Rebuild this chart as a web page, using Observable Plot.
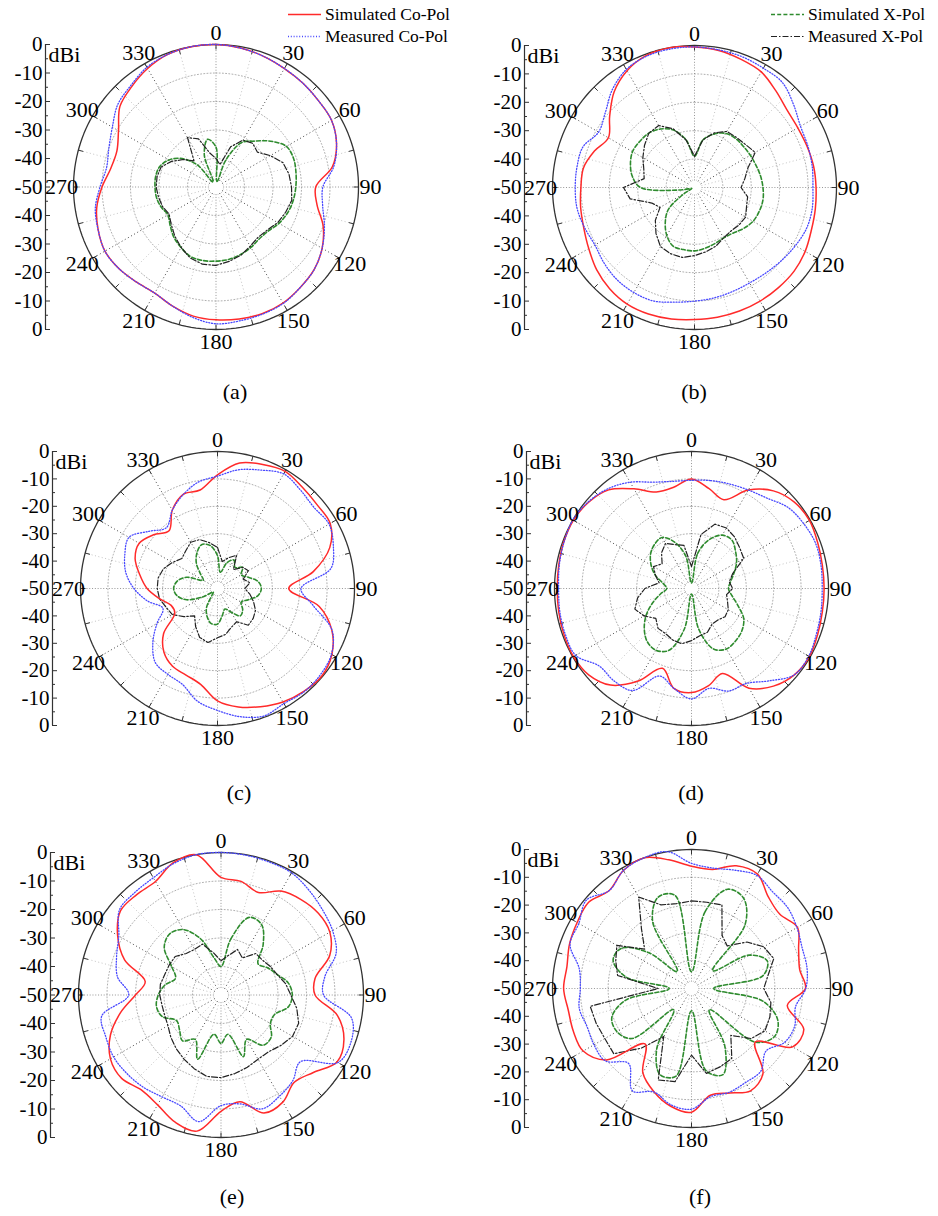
<!DOCTYPE html>
<html><head><meta charset="utf-8">
<script src="https://cdn.jsdelivr.net/npm/d3@7"></script>
<script src="https://cdn.jsdelivr.net/npm/@observablehq/plot@0.6"></script>
<style>
body{margin:0;background:#fff;}
#root{position:relative;width:938px;height:1216px;font-family:"Liberation Serif","Times New Roman",serif;color:#000;overflow:hidden;}
.panel{position:absolute;}
.panel svg text{font-family:"Liberation Serif","Times New Roman",serif;}
.cap{position:absolute;font-size:22px;transform:translate(-50%,-50%);white-space:nowrap;}
.leg{position:absolute;font-size:17.5px;display:flex;align-items:center;white-space:nowrap;transform:translateY(-50%);}
.leg svg{margin-right:4px;}
</style></head><body><div id="root"></div>
<script>
// ---------- data ----------
const angles = [0,10,20,30,40,50,60,70,80,90,100,110,120,130,140,150,160,170,180,190,200,210,220,230,240,250,260,270,280,290,300,310,320,330,340,350];
const angleLabels = [0,30,60,90,120,150,180,210,240,270,300,330];
const yTicks = [-50,-40,-30,-20,-10,0,10,20,30,40,50];
const yMinor = [-45,-35,-25,-15,-5,5,15,25,35,45];
const gridLevels = [-10,-20,-30,-40];
const captions = ["(a)","(b)","(c)","(d)","(e)","(f)"];
const seriesNames = ["Simulated Co-Pol","Measured Co-Pol","Simulated X-Pol","Measured X-Pol"];

// (a)
const aSimCo  = [0,-0.5,-1.2,-2,-2.5,-3,-3.2,-5,-8.5,-15,-14,-10,-7,-5,-4,-3,-2.7,-3,-3.4,-4,-5.5,-7,-6.5,-5.5,-5,-6,-7.5,-10,-12.5,-13,-10.5,-6,-4,-2,-0.5,0];
const aMeasCo = [0,-0.5,-1.2,-2,-2.5,-3,-3.2,-5,-8,-12.5,-12,-9.5,-7,-5,-4,-2.8,-2.5,-2.3,-2,-3.5,-5.5,-7,-6.5,-5.5,-5,-6,-7,-9.3,-11,-10,-8,-5,-3.5,-1.5,-0.5,0];
const aSimX   = [-36,-48,-40,-32,-29,-25,-21.5,-21,-21.5,-22,-22.5,-23.3,-24.5,-26,-26.3,-25.5,-24.8,-24.2,-24,-23.8,-24,-25.5,-27,-29,-30.5,-29.5,-28.8,-28.6,-28.5,-29,-31,-34.5,-40,-48,-38,-33];
const aMeasX  = [-40,-42,-35,-31,-30,-31,-28,-25,-24,-23.5,-23,-24,-25,-26.5,-27,-26,-24.5,-23.5,-22.5,-22.5,-23.5,-25.5,-27.5,-29.5,-31,-30,-29.5,-29,-29,-29.5,-32,-35,-38,-30,-32,-38];
// (b)
const bSimCo  = [-0.5,-1,-2,-3,-5.5,-7.5,-8,-7.8,-7.4,-7.2,-6.8,-6.2,-5,-4.2,-4,-3.8,-3.7,-3.6,-3.5,-3,-2.6,-2.6,-3.5,-5,-7,-8.5,-9.3,-10,-10.3,-12.5,-15,-11,-6,-2.5,-0.5,0];
const bMeasCo = [-0.5,-0.8,-1,-1.5,-1.8,-4.5,-6.9,-7.5,-7.9,-8.3,-7.9,-8,-9,-10,-10.8,-11.2,-11,-10.5,-10,-9,-7.5,-7.3,-7.6,-8.5,-9.5,-8.8,-8,-8,-8,-8.2,-11,-9,-5,-2,-0.8,-0.5];
const bSimX   = [-39,-33,-30,-28,-27.5,-27.5,-27.3,-27,-26.4,-25.9,-25.5,-25.7,-26.2,-27.5,-29,-29.5,-29,-28.3,-27.7,-27.8,-28,-30.5,-34,-38,-46,-49,-45,-31,-27.8,-26,-24.8,-24.8,-25,-26.2,-28.5,-33];
const bMeasX  = [-39,-33,-29.5,-27.2,-27,-26.5,-25.3,-30,-32,-33.6,-31,-30.5,-29.2,-29.5,-30,-29.5,-28,-27,-26,-25,-25.2,-26,-28.9,-32,-36,-34,-27,-25,-32,-31,-29,-27,-25,-24.8,-28,-33];
// (c)
const cSimCo  = [-8.5,-3.5,-1.8,-0.6,-1.8,-2.5,-2.5,-6.4,-14.5,-24,-12.3,-5.6,-1.8,-0.3,-1,-2.2,-4.1,-6.1,-9,-14.5,-16.4,-17.2,-19.6,-24.3,-32,-32,-28.5,-24.3,-21.2,-18,-17,-19.5,-22.5,-17,-13.4,-13.5];
const cMeasCo = [-9,-6,-4,-1.7,-3,-4,-3,-5,-8,-19.5,-14.6,-5.5,-2,-1,-0.8,-1.5,-0.5,-2.5,-5.5,-8.2,-12.7,-13.8,-14.7,-19.2,-24.5,-28.8,-24,-19.5,-16,-14,-12.7,-17.5,-21,-17,-13.5,-10.5];
const cSimX   = [-38,-44,-40,-38,-40,-38,-40,-38,-35,-34,-35,-38,-40,-38,-37,-40,-42,-40,-37,-37,-39,-42,-47,-48,-44,-38,-35,-34,-35,-38,-44,-42,-38,-35,-33,-34];
const cMeasX  = [-35,-40,-38,-36,-41,-38,-37,-40,-38,-40,-38,-36,-34,-33,-32.5,-36,-35,-33,-32,-30,-31,-34,-37,-34,-31,-30,-28.5,-28,-28,-29,-31,-33,-32,-30.5,-31,-33];
// (d)
const dSimCo  = [-10,-13,-15.5,-8.5,-3.5,-1,-0.3,-1,-1.5,-1.6,-1.5,-1,-0.3,-1,-3.5,-8,-17,-14,-12,-13,-19,-11,-4,-1,-0.3,-0.5,-0.8,-1,-0.8,-0.4,-0.2,-1,-3,-8,-12.5,-12.5];
const dMeasCo = [-10.5,-10,-9.4,-8.5,-7,-4,-2.7,-1.8,-2,-2.3,-2,-1.5,-0.6,-1,-6,-10,-10.2,-13,-9.7,-13,-16,-7,-6,-6,-1.2,-1,-1.2,-1.5,-1,-0.5,0,-0.8,-2.5,-5.2,-8.7,-10.3];
const dSimX   = [-48,-37,-31,-27.5,-27,-29,-31,-33.5,-35.5,-36.5,-35,-32,-28,-26,-25,-24.5,-26.5,-35,-48,-35,-26,-24,-24.8,-27.5,-31,-35,-38.5,-41,-39.5,-36,-33,-30.5,-29,-28.5,-32,-38];
const dMeasX  = [-42,-30,-25,-24.5,-25.5,-27,-28,-34,-36,-35,-37,-36,-34.5,-34,-35,-35,-33,-32.5,-31,-29.5,-30,-31,-31,-33,-30,-28,-30,-33,-38,-36,-34,-36,-33,-31,-33,-34];
// (e)
const eSimCo  = [-8.7,-9.5,-11.7,-7.9,-6.3,-5.4,-5.9,-9.4,-16.5,-17,-8.5,-4.1,-3,-7.7,-10,-6.6,-5.9,-12,-9.2,-1.5,-2.6,-5.5,-6.5,-4.5,-5.2,-8.7,-14.2,-20,-23,-14,-8.1,-4,-4,-4,-0.7,0];
const eMeasCo = [0,-0.2,-0.4,-0.5,-2,-3.5,-4.8,-7,-13,-14,-3.5,-1.5,-2.6,-13.6,-10.8,-9,-7.5,-11.2,-11.2,-4.9,-8.6,-8.7,-7.7,-7,-6.5,-7,-7.5,-17.6,-13.1,-11,-8.6,-3.5,-3,-2.5,-1,0];
const eSimX   = [-40,-30,-21,-21.5,-27,-33,-31,-29,-26,-25,-26,-30,-30,-27,-27,-32,-27,-36,-33,-36,-26,-32,-29,-31,-32,-28,-27,-28,-30,-33,-30,-24,-22,-23.5,-29,-37];
const eMeasX  = [-38,-36,-33,-35,-31,-31,-30,-29,-27,-25.5,-23,-21,-21,-22.5,-24,-24,-23,-22,-21,-21,-22.5,-24,-25.5,-27,-28.5,-29,-29,-28.5,-28.4,-29,-29,-29,-31,-31.5,-31,-35];
// (f)
const fSimCo  = [-6,-6.5,-3,-2.5,-7,-8.5,-6,-9,-10.5,-9,-15,-7,-8,-20,-10,-7.5,-10,-11,-5.5,-7,-10.5,-15,-24,-10,-5,-4.8,-5,-4,-4.5,-3.3,-2.5,-1.7,-4,-1,0,-3];
const fMeasCo = [-5,-6,-4.7,-3,-4.6,-4.8,-6.2,-7.6,-7.8,-8.9,-12,-10.5,-11.3,-15,-11.2,-11,-10.3,-10.5,-6.6,-7.5,-10.4,-7.5,-14.8,-9.5,-9.5,-10,-9,-10,-9,-3.5,-3.2,-0.6,-4,-1,0,0];
const fSimX   = [-44,-22,-12,-12.5,-20,-40,-26,-21,-24,-42,-24,-17,-15.5,-20,-40,-26,-17,-20,-42,-18,-17,-25,-40,-22,-19,-19.5,-26,-42,-26,-20,-21,-30,-42,-22,-15,-16];
const fMeasX  = [-18.5,-18.5,-18,-28,-30,-24,-20,-18.5,-22,-24,-21,-20,-19.5,-22,-28,-21,-20,-19,-26,-16,-15,-30,-22,-13.5,-14,-13.5,-13,-38,-23,-21,-19,-28,-22,-12,-18,-19];

// ---------- layout (not data) ----------
const panels = [
  {cap:0, cx:215.5, cy:186,   R:142.5, capX:235, capY:392,  series:[aSimCo,aMeasCo,aSimX,aMeasX]},
  {cap:1, cx:693.5, cy:186.5, R:142,   capX:694, capY:392,  series:[bSimCo,bMeasCo,bSimX,bMeasX]},
  {cap:2, cx:217,   cy:588,   R:137,   capX:239, capY:793,  series:[cSimCo,cMeasCo,cSimX,cMeasX]},
  {cap:3, cx:691,   cy:588,   R:137,   capX:691, capY:793,  series:[dSimCo,dMeasCo,dSimX,dMeasX]},
  {cap:4, cx:220.5, cy:994,   R:142.5, capX:232, capY:1197, series:[eSimCo,eMeasCo,eSimX,eMeasX]},
  {cap:5, cx:691,   cy:988,   R:139,   capX:700, capY:1197, series:[fSimCo,fMeasCo,fSimX,fMeasX]}
];
const styles = [
  {stroke:"#ff2a2a", strokeWidth:1.5, dash:null,          curve:"catmull-rom-closed"},
  {stroke:"#4848ff", strokeWidth:1.3, dash:"1,1.8",       curve:"catmull-rom-closed"},
  {stroke:"#2e8b2e", strokeWidth:1.6, dash:"4,2.2",       curve:"catmull-rom-closed"},
  {stroke:"#222222", strokeWidth:1.2, dash:"6,2,1.5,2",   curve:"linear-closed"}
];
const drawOrder = [2,3,0,1];
const FONT = "Liberation Serif, Times New Roman, serif";

const rad = a => a * Math.PI / 180;
const px = (a, r) => r * Math.sin(rad(a));
const py = (a, r) => r * Math.cos(rad(a));
const circleAngles = d3.range(0, 360, 2);
const ticks15 = d3.range(0, 360, 15);
const minorSpokes = ticks15.filter(a => a % 30 !== 0);
const axisSpokes = [0, 90, 180, 270];
const diagSpokes = angleLabels.filter(a => a % 90 !== 0);

const root = document.getElementById("root");

function makePanel(p) {
  const ml = 70, mr = 45, mt = 35, mb = 35;
  const u = 50 / p.R;              // data units per pixel
  const axisX = -50 - 28 * u;
  const rows = [];
  p.series.forEach((vals, si) => {
    angles.forEach((a, i) => {
      const r = Math.max(0, vals[i] + 50);
      rows.push({s: si, a, db: vals[i], x: px(a, r), y: py(a, r)});
    });
  });
  const grid = [];
  gridLevels.forEach(l => circleAngles.forEach(a => grid.push({l, x: px(a, l + 50), y: py(a, l + 50)})));
  const outer = circleAngles.map(a => ({x: px(a, 50), y: py(a, 50)}));
  const rLab = 50 + 12 * u;
  const rTick = 50 - 5 * u;
  const r0 = 2.5;

  const marks = [
    Plot.line(grid, {x: "x", y: "y", z: "l", curve: "linear-closed", stroke: "#9a9a9a", strokeWidth: 0.8, strokeDasharray: "1,2.2"}),
    Plot.link(minorSpokes, {x1: a => px(a, r0), y1: a => py(a, r0), x2: a => px(a, 50), y2: a => py(a, 50), stroke: "#b5b5b5", strokeWidth: 0.8, strokeDasharray: "1,2.5"}),
    Plot.link(axisSpokes, {x1: a => px(a, r0), y1: a => py(a, r0), x2: a => px(a, 50), y2: a => py(a, 50), stroke: "#8a8a8a", strokeWidth: 0.9, strokeDasharray: "1,1.8"}),
    Plot.link(diagSpokes, {x1: a => px(a, r0), y1: a => py(a, r0), x2: a => px(a, 50), y2: a => py(a, 50), stroke: "#333", strokeWidth: 0.9, strokeDasharray: "1,2.6"}),
    Plot.line(outer, {x: "x", y: "y", curve: "linear-closed", stroke: "#333", strokeWidth: 1.3}),
    Plot.link(ticks15, {x1: a => px(a, rTick), y1: a => py(a, rTick), x2: a => px(a, 50), y2: a => py(a, 50), stroke: "#333", strokeWidth: 1})
  ];
  drawOrder.forEach(si => {
    const st = styles[si];
    const o = {x: "x", y: "y", curve: st.curve, stroke: st.stroke, strokeWidth: st.strokeWidth, strokeLinejoin: "round"};
    if (st.dash) o.strokeDasharray = st.dash;
    marks.push(Plot.line(rows.filter(d => d.s === si), o));
  });
  marks.push(
    Plot.text(angleLabels, {x: a => px(a, rLab), y: a => py(a, rLab), text: a => String(a), fontSize: 22, fontFamily: FONT, fill: "#000"}),
    Plot.ruleX([axisX], {x: d => d, y1: -50, y2: 50, stroke: "#333", strokeWidth: 1.2}),
    Plot.ruleY(yTicks, {y: d => d, x1: axisX, x2: axisX + 5 * u, stroke: "#333", strokeWidth: 1}),
    Plot.ruleY(yMinor, {y: d => d, x1: axisX, x2: axisX + 3 * u, stroke: "#333", strokeWidth: 1}),
    Plot.text(yTicks, {x: axisX, y: d => d, text: d => String(Math.abs(d) - 50), textAnchor: "end", dx: -3, fontSize: 21, fontFamily: FONT, fill: "#000"}),
    Plot.text(["dBi"], {x: axisX, y: 50, text: d => d, textAnchor: "start", dx: 3, dy: 10, fontSize: 22, fontFamily: FONT, fill: "#000"})
  );

  const chart = Plot.plot({
    width: ml + 2 * p.R + mr,
    height: mt + 2 * p.R + mb,
    marginLeft: ml, marginRight: mr, marginTop: mt, marginBottom: mb,
    x: {domain: [-50, 50], axis: null},
    y: {domain: [-50, 50], axis: null},
    style: {fontFamily: FONT, background: "transparent", overflow: "visible"},
    marks
  });
  const wrap = document.createElement("div");
  wrap.className = "panel";
  wrap.style.left = (p.cx - p.R - ml) + "px";
  wrap.style.top = (p.cy - p.R - mt) + "px";
  wrap.appendChild(chart);
  root.appendChild(wrap);

  const cap = document.createElement("div");
  cap.className = "cap";
  cap.textContent = captions[p.cap];
  cap.style.left = p.capX + "px";
  cap.style.top = p.capY + "px";
  root.appendChild(cap);
}
panels.forEach(makePanel);

// ---------- legend ----------
const legendPos = [
  {x: 288, y: 14}, {x: 288, y: 36}, {x: 771, y: 14}, {x: 771, y: 36}
];
seriesNames.forEach((name, i) => {
  const st = styles[i];
  const d = document.createElement("div");
  d.className = "leg";
  d.style.left = legendPos[i].x + "px";
  d.style.top = legendPos[i].y + "px";
  d.innerHTML = `<svg width="33" height="8"><line x1="0" y1="4" x2="33" y2="4" stroke="${st.stroke}" stroke-width="${st.strokeWidth}" ${st.dash ? `stroke-dasharray="${st.dash}"` : ""}/></svg><span>${name}</span>`;
  root.appendChild(d);
});
</script>
</body></html>
